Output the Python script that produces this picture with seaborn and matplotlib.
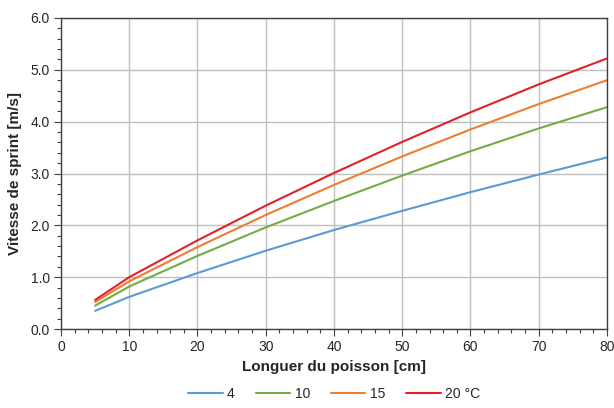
import pandas as pd
import matplotlib.pyplot as plt
import seaborn as sns
from matplotlib.ticker import MultipleLocator

# Data
longueur = [5, 10, 20, 30, 40, 50, 60, 70, 80]
temp_labels = ["4", "10", "15", "20 °C"]
vitesse_4 = [0.35, 0.62, 1.08, 1.51, 1.91, 2.28, 2.64, 2.98, 3.31]
vitesse_10 = [0.45, 0.82, 1.41, 1.96, 2.47, 2.96, 3.43, 3.87, 4.28]
vitesse_15 = [0.52, 0.92, 1.58, 2.20, 2.78, 3.33, 3.85, 4.34, 4.80]
vitesse_20 = [0.56, 1.00, 1.71, 2.38, 3.01, 3.61, 4.18, 4.72, 5.22]
colors = ["#5B9BD5", "#70AD47", "#ED7D31", "#E3202B"]

series = [vitesse_4, vitesse_10, vitesse_15, vitesse_20]
rows = []
for label, vals in zip(temp_labels, series):
    for x, v in zip(longueur, vals):
        rows.append({"longueur": x, "vitesse": v, "temp": label})
df = pd.DataFrame(rows)

sns.set_theme(style="white")
plt.rcParams['font.family'] = ['Liberation Sans', 'DejaVu Sans']

fig = plt.figure(figsize=(6.14, 4.08), dpi=100)
ax = fig.add_axes([0.0993, 0.1936, 0.8893, 0.7623])

sns.lineplot(data=df, x="longueur", y="vitesse", hue="temp", hue_order=temp_labels,
             palette=colors, linewidth=1.5, ax=ax)

ax.set_xlim(0, 80)
ax.set_ylim(0, 6)
ax.xaxis.set_major_locator(MultipleLocator(10))
ax.xaxis.set_minor_locator(MultipleLocator(2))
ax.yaxis.set_major_locator(MultipleLocator(1))
ax.yaxis.set_minor_locator(MultipleLocator(0.2))
ax.yaxis.set_major_formatter(plt.FormatStrFormatter("%.1f"))
ax.grid(True, which="major", color="#BFBFBF", linewidth=1.0)
ax.set_axisbelow(True)

for side in ["left", "bottom", "top", "right"]:
    ax.spines[side].set_color("#404040")
    ax.spines[side].set_linewidth(1.0)

ax.tick_params(which="major", direction="out", length=5, width=0.8, color="#404040",
               labelsize=10, left=True, bottom=True, pad=3)
ax.tick_params(which="minor", direction="out", length=3, width=0.8, color="#404040",
               left=True, bottom=True)

ax.set_xlabel("Longuer du poisson [cm]", fontsize=11, fontweight="bold", labelpad=4)
ax.set_ylabel("Vitesse de sprint [m/s]", fontsize=11, fontweight="bold", labelpad=6)

ax.legend(title=None, loc="upper center", bbox_to_anchor=(0.5, -0.145), ncol=4,
          frameon=False, fontsize=10, handlelength=2.5, columnspacing=1.5, handletextpad=0.3)

fig.savefig("out.png", dpi=100)
